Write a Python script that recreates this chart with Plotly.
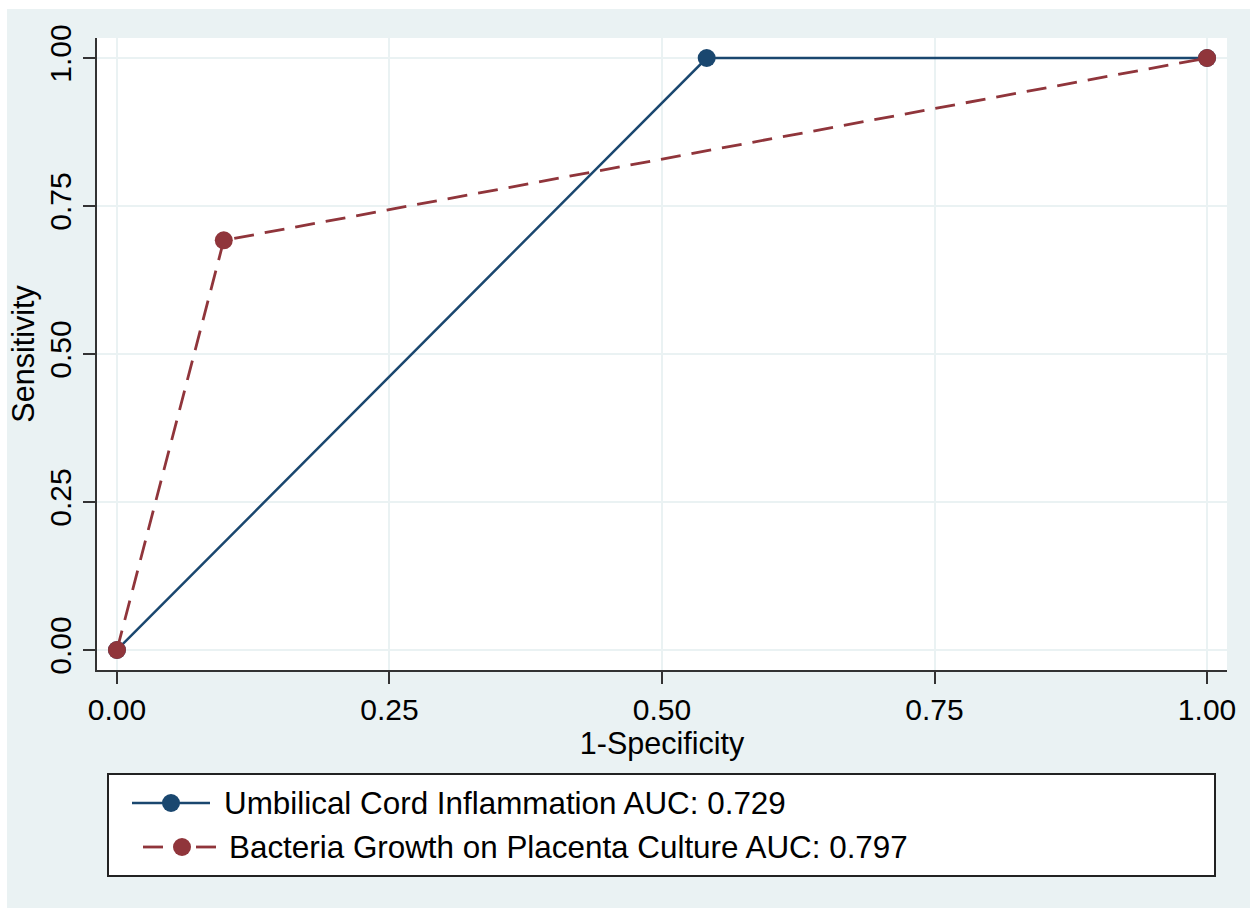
import plotly.graph_objects as go

# ---- data ----
series_names = ["Umbilical Cord Inflammation AUC: 0.729",
                "Bacteria Growth on Placenta Culture AUC: 0.797"]
umb_fpr = [0.0, 0.541, 1.0]
umb_tpr = [0.0, 1.0, 1.0]
bac_fpr = [0.0, 0.098, 1.0]
bac_tpr = [0.0, 0.692, 1.0]
tick_vals = [0.0, 0.25, 0.5, 0.75, 1.0]
tick_text = ["0.00", "0.25", "0.50", "0.75", "1.00"]

NAVY = "#1a476f"
MAROON = "#90353b"
BG = "#eaf2f3"
GRID = "#eaf2f3"
FONT = "Liberation Sans, Arial, Helvetica, sans-serif"

W, H = 1250, 909
L, R, T, B = 97, 23, 38, 239
PW, PH = W - L - R, H - T - B


def px_x(p):
    return (p - L) / PW


def px_y(p):
    return (H - B - p) / PH


fig = go.Figure()
fig.add_trace(go.Scatter(x=umb_fpr, y=umb_tpr, mode="lines+markers",
                         name=series_names[0],
                         line=dict(color=NAVY, width=2.5),
                         marker=dict(color=NAVY, size=18),
                         showlegend=False))
fig.add_trace(go.Scatter(x=bac_fpr, y=bac_tpr, mode="lines+markers",
                         name=series_names[1],
                         line=dict(color=MAROON, width=2.8, dash="20px,11px"),
                         marker=dict(color=MAROON, size=18),
                         showlegend=False))

shapes = []
# outer gray graph region
shapes.append(dict(type="rect", xref="paper", yref="paper", layer="below",
                   x0=px_x(7), x1=px_x(1250), y0=px_y(908), y1=px_y(9),
                   fillcolor=BG, line=dict(width=0)))
# white plot region
shapes.append(dict(type="rect", xref="paper", yref="paper", layer="below",
                   x0=0, x1=1, y0=0, y1=1,
                   fillcolor="white", line=dict(width=0)))
# legend box
shapes.append(dict(type="rect", xref="paper", yref="paper",
                   x0=px_x(108), x1=px_x(1215), y0=px_y(876), y1=px_y(774),
                   fillcolor="white", line=dict(color="#222222", width=2)))
# legend glyphs
legend_rows = [
    dict(y=803, lx0=132, lx1=210, mx=171, tx=224, color=NAVY, dash="solid", w=2.5),
    dict(y=847, lx0=143, lx1=216, mx=182, tx=229, color=MAROON, dash="dash", w=2.8),
]
annotations = []
for row, name in zip(legend_rows, series_names):
    if row["dash"] == "solid":
        shapes.append(dict(type="line", xref="paper", yref="paper",
                           x0=px_x(row["lx0"]), x1=px_x(row["lx1"]),
                           y0=px_y(row["y"]), y1=px_y(row["y"]),
                           line=dict(color=row["color"], width=row["w"])))
    else:
        for a, b in [(row["lx0"], row["lx0"] + 20), (row["lx1"] - 20, row["lx1"])]:
            shapes.append(dict(type="line", xref="paper", yref="paper",
                               x0=px_x(a), x1=px_x(b),
                               y0=px_y(row["y"]), y1=px_y(row["y"]),
                               line=dict(color=row["color"], width=row["w"])))
    shapes.append(dict(type="circle", xref="paper", yref="paper",
                       xsizemode="pixel", ysizemode="pixel",
                       xanchor=px_x(row["mx"]), yanchor=px_y(row["y"]),
                       x0=-9, x1=9, y0=-9, y1=9,
                       fillcolor=row["color"], line=dict(width=0)))
    annotations.append(dict(xref="paper", yref="paper",
                            x=px_x(row["tx"] - 2), y=px_y(row["y"]),
                            xanchor="left", yanchor="middle",
                            text=name, showarrow=False,
                            font=dict(size=31.4, color="black", family=FONT)))

axis_common = dict(
    tickvals=tick_vals, ticktext=tick_text,
    showgrid=True, gridcolor=GRID, gridwidth=2,
    zeroline=False, showline=True, linecolor="#333333", linewidth=2,
    ticks="outside", ticklen=12, tickwidth=2, tickcolor="#333333",
    tickfont=dict(size=30, color="black", family=FONT),
    title_font=dict(size=30.5, color="black", family=FONT),
)

fig.update_layout(
    width=W, height=H,
    margin=dict(l=L, r=R, t=T, b=B, pad=0),
    paper_bgcolor="white", plot_bgcolor="white",
    font=dict(family=FONT, color="black"),
    shapes=shapes, annotations=annotations,
    xaxis=dict(axis_common, range=[-0.0183, 1.0183],
               title=dict(text="1-Specificity", standoff=4)),
    yaxis=dict(axis_common, range=[-0.0338, 1.0338], tickangle=-90,
               title=dict(text="Sensitivity", standoff=0)),
)

fig.write_html("out.html")
